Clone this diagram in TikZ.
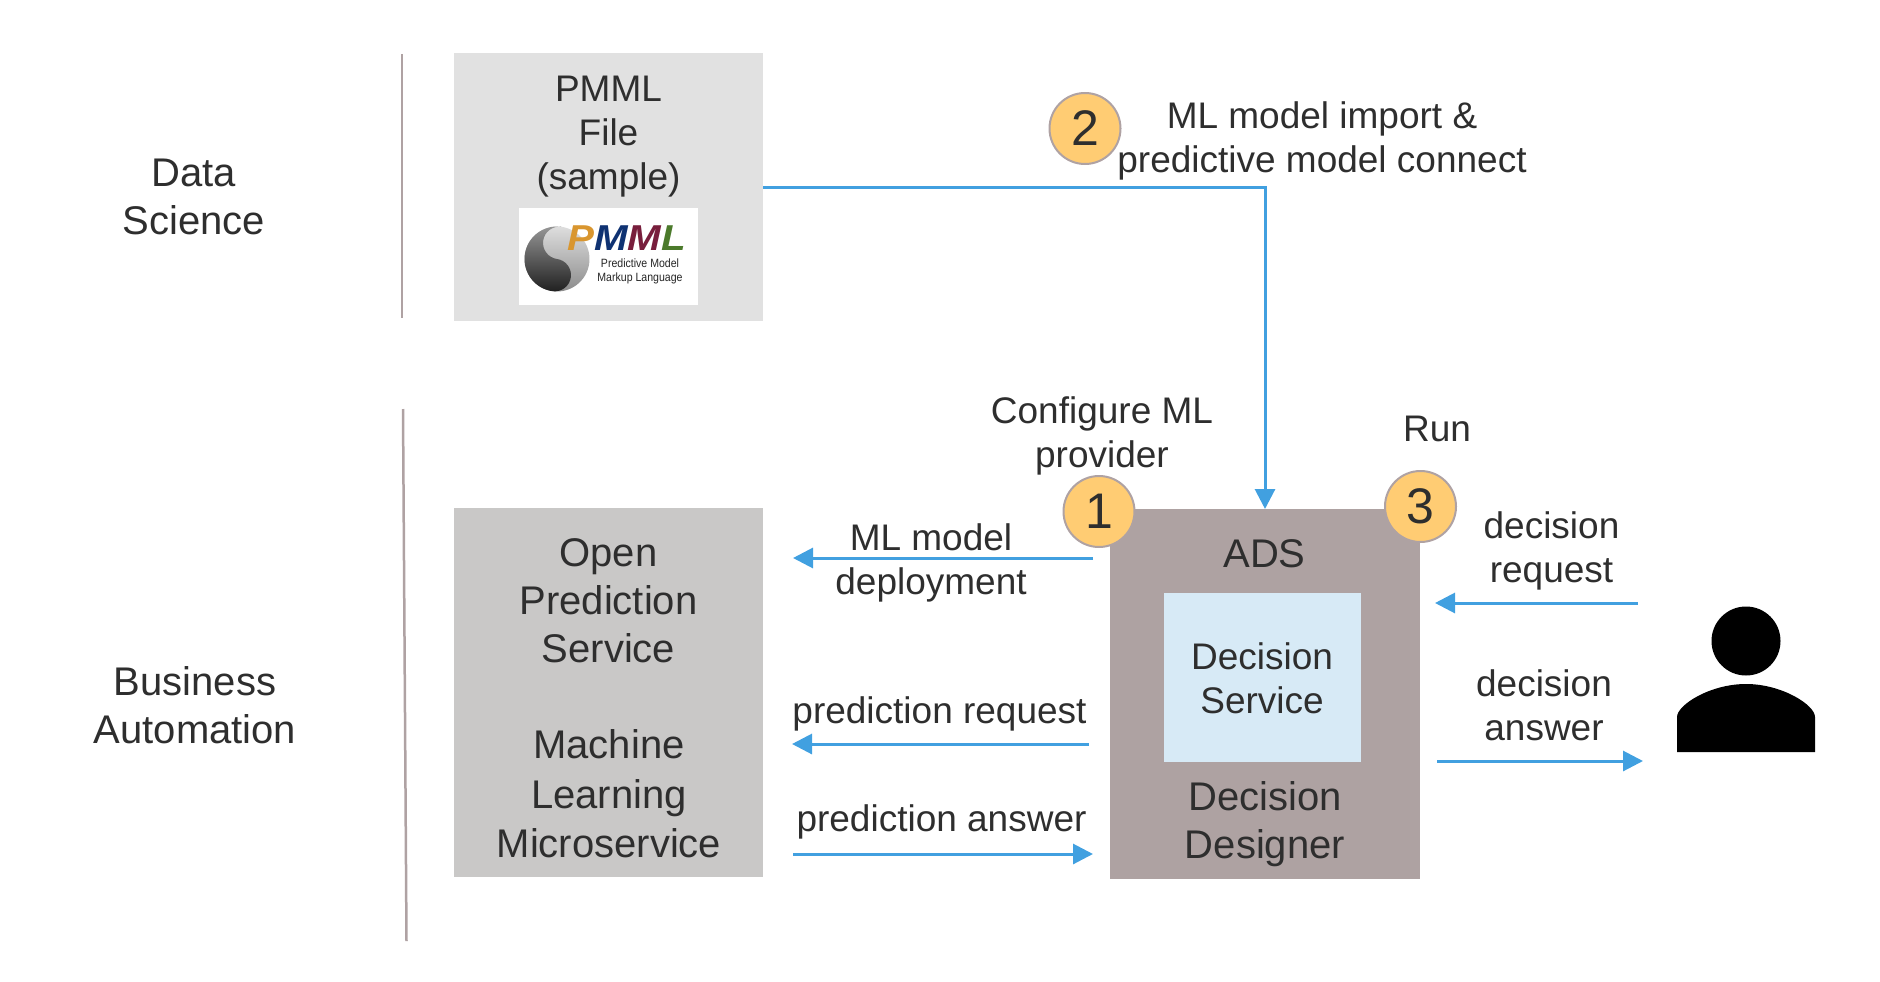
\documentclass[tikz,border=0pt]{standalone}
\usepackage{fontspec}
\setmainfont{Liberation Sans}
\usetikzlibrary{arrows.meta}
\definecolor{ink}{HTML}{2E2E2E}
\definecolor{flow}{HTML}{41A0E0}
\definecolor{sep}{HTML}{AFA2A3}
\definecolor{pmmlgrey}{HTML}{E1E1E1}
\definecolor{opsgrey}{HTML}{C9C8C7}
\definecolor{adsgrey}{HTML}{AEA2A2}
\definecolor{dsblue}{HTML}{D7EAF6}
\definecolor{badge}{HTML}{FFCC73}
\tikzset{
  box/.style={draw=none,inner sep=0pt,outer sep=0pt},
  big/.style={text=ink,align=center,inner sep=0pt,font=\fontsize{40}{48}\selectfont},
  mid/.style={text=ink,align=center,inner sep=0pt,font=\fontsize{37}{44}\selectfont},
  num/.style={circle,draw=sep,line width=2pt,fill=badge,text=ink,minimum size=71pt,inner sep=0pt,font=\fontsize{50}{50}\selectfont},
  flowline/.style={draw=flow,line width=3pt,-{Triangle[length=20pt,width=20pt]}},
  sepline/.style={draw=sep,line width=2.5pt},
  logo/.style={inner sep=0pt,xscale=1.12,font=\fontsize{36}{36}\bfseries\itshape\selectfont}
}
\begin{document}
\begin{tikzpicture}[x=1pt,y=-1pt]
\useasboundingbox (0,0) rectangle (1880,982);
% separators
\coordinate (s1a) at (402,54); \coordinate (s1b) at (402,318);
\coordinate (s2a) at (403,409); \coordinate (s2b) at (406.5,941);
\draw[sepline] (s1a) -- (s1b);
\draw[sepline] (s2a) -- (s2b);
% row labels
\node[big] (dslabel) at (194,197) {Data\\Science};
\node[big] (balabel) at (195,705) {Business\\Automation};
% PMML box
\node[box,fill=pmmlgrey,minimum width=309pt,minimum height=268pt] (pmml) at (608.5,187) {};
\node[mid] (pmmltext) at (608.5,137) {PMML\\File\\(sample)};
\node[box,fill=white,minimum width=179pt,minimum height=97pt] (logobg) at (608.5,256.5) {};
\begin{scope}[shift={(557,259)},y=1pt,rotate=-8]
\shade[top color=black!12,bottom color=black!45] (0,0) circle (32.5);
\shade[top color=black!40,bottom color=black!88]
  (0,32.5) arc[start angle=90,end angle=270,radius=32.5]
  arc[start angle=270,end angle=450,radius=16.25]
  arc[start angle=270,end angle=90,radius=16.25] -- cycle;
\end{scope}
\node[logo,anchor=base west] (logoword) at (567,250) {\textcolor[HTML]{D9962F}{P}\textcolor[HTML]{0F3272}{M}\textcolor[HTML]{781E3C}{M}\textcolor[HTML]{4B7A2B}{L}};
\node[inner sep=0pt,align=center,text=black!85,xscale=.88,font=\fontsize{12}{14}\selectfont] (logotext) at (640,271) {Predictive Model\\Markup Language};
% OPS box
\node[box,fill=opsgrey,minimum width=309pt,minimum height=369pt] (ops) at (608.5,692.5) {};
\node[big] (opstext) at (608.5,600.5) {Open\\Prediction\\Service};
\node[big,font=\fontsize{40}{49.5}\selectfont] (mltext) at (609,794) {Machine\\Learning\\Microservice};
% ADS box
\node[box,fill=adsgrey,minimum width=310pt,minimum height=370pt] (ads) at (1265,694) {};
\node[big] (adstext) at (1264.5,554) {ADS};
\node[box,fill=dsblue,minimum width=197pt,minimum height=169pt] (dservice) at (1262.5,677.5) {};
\node[mid] (dstext) at (1262,678) {Decision\\Service};
\node[big] (ddtext) at (1265,824) {Decision\\Designer};
% person
\fill[black] (1746,641) circle (34.5);
\fill[black] (1677,752) -- (1677,717) .. controls (1677,705) and (1710,684) .. (1746,684) .. controls (1782,684) and (1815,705) .. (1815,717) -- (1815,752) -- cycle;
% badges
\node[num] (n1) at (1099,511.5) {1};
\node[num] (n2) at (1085,128.5) {2};
\node[num] (n3) at (1420.5,506.5) {3};
% labels
\node[mid] (t2) at (1322,141) {ML model import \&\\predictive model connect};
\node[mid] (t1) at (1102,436) {Configure ML\\provider};
\node[mid] (t3) at (1437,429) {Run};
\node[mid] (tdreq) at (1551.5,551) {decision\\request};
\node[mid] (tdans) at (1544,705) {decision\\answer};
\node[mid] (tdep) at (931,563) {ML model\\deployment};
\node[mid] (tpreq) at (939.5,714) {prediction request};
\node[mid] (tpans) at (941.5,822) {prediction answer};
% connectors
\coordinate (depa) at (1093,558); \coordinate (depb) at (793,558);
\coordinate (reqa) at (1089,744); \coordinate (reqb) at (792,744);
\coordinate (ansa) at (793,854); \coordinate (ansb) at (1093,854);
\coordinate (dra) at (1638,603); \coordinate (drb) at (1435,603);
\coordinate (daa) at (1437,761); \coordinate (dab) at (1643,761);
\draw[flowline] (pmml.east) -| (ads.north);
\draw[flowline] (depa) -- (depb);
\draw[flowline] (reqa) -- (reqb);
\draw[flowline] (ansa) -- (ansb);
\draw[flowline] (dra) -- (drb);
\draw[flowline] (daa) -- (dab);
\end{tikzpicture}
\end{document}
